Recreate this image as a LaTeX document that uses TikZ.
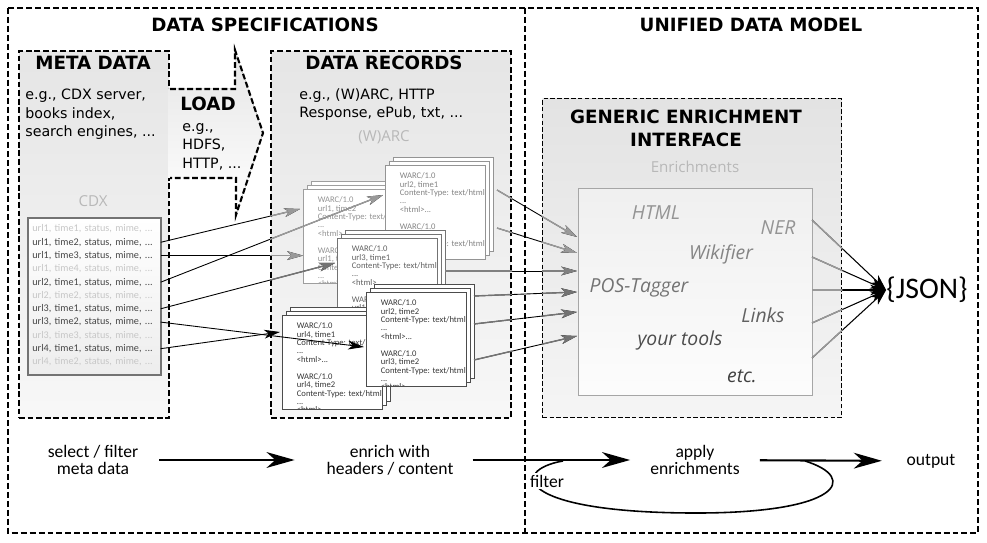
\documentclass[tikz,border=0pt]{standalone}
\usepackage{fontspec}
\setmainfont{DejaVu Sans}
\newfontfamily\calibri{Carlito}
\newfontfamily\opensans{Open Sans}
\usetikzlibrary{arrows.meta,shadows}

\tikzset{
  frameline/.style={line width=1.5pt, dash pattern=on 3.4pt off 1.7pt},
  partline/.style={line width=1.2pt, dash pattern=on 3.3pt off 1.6pt},
  partbox/.style={draw, partline, top color=black!10, bottom color=black!3,
    anchor=north west, inner sep=0pt},
  ifacebox/.style={draw, line width=0.8pt, dash pattern=on 2.6pt off 1.3pt,
    top color=black!11, bottom color=black!4, anchor=north west, inner sep=0pt},
  heading/.style={font=\fontsize{10.4}{13}\selectfont\bfseries, inner sep=0pt},
  example/.style={font=\fontsize{8.1}{10.5}\selectfont, align=left, anchor=north west, inner sep=0pt},
  pale/.style={font=\opensans\fontsize{8.6}{10}\selectfont, text=black!28, inner sep=0pt},
  cdxrow/.style={font=\calibri\fontsize{5.8}{7}\selectfont, text=#1, anchor=west, align=left,
    text width=2.46cm, inner xsep=0.1cm, inner ysep=0pt},
  record/.style n args={3}{draw=#1, fill=white, line width=0.75pt, anchor=north west,
    inner sep=0pt, minimum width=2cm, minimum height=1.88cm,
    double copy shadow={shadow xshift=0.08cm, shadow yshift=0.08cm,
      draw=#1, fill=white, line width=0.75pt},
    path picture={\node[anchor=north west, inner sep=0pt, align=left, text=#2,
      font=\calibri\fontsize{4.9}{4.8}\selectfont]
      at ([xshift=0.12cm, yshift=-0.09cm]path picture bounding box.north west) {#3};}},
  feed/.style={line width=0.5pt, -{Stealth[length=9pt, width=5pt, inset=2.5pt]}},
  faded/.style={line width=0.8pt, draw=black!40},
  tool/.style={font=\opensans\itshape\fontsize{11}{12}\selectfont, text=#1, inner sep=0pt},
  tojson/.style={line width=0.6pt, -{Stealth[length=9pt, width=6pt, inset=2.5pt]}},
  stage/.style={font=\calibri\fontsize{10}{9.6}\selectfont, align=center, inner sep=0pt},
  flow/.style={line width=1.2pt, -{Stealth[length=16pt, width=9pt, inset=5pt]}},
}

\begin{document}
\begin{tikzpicture}[x=0.02cm, y=-0.02cm]
\useasboundingbox (0,0) rectangle (987,543);

% frame and the two halves
\draw[frameline] (8,8) rectangle (978,533);
\draw[frameline] (525,8) -- (525,533);
\draw (265,25) node (dstitle)  [heading] {DATA SPECIFICATIONS};
\draw (751,25) node (udmtitle) [heading] {UNIFIED DATA MODEL};

% meta data, load, data records
\node[partbox, minimum width=3cm, minimum height=7.34cm] (meta) at (18,50) {};
\node[partbox, minimum width=4.8cm, minimum height=7.34cm] (records) at (270,50) {};
\fill[top color=black!10, bottom color=white]
  (168,89) -- (235,89) -- (235,50) -- (263,133) -- (236,215) -- (236,178) -- (168,178) -- cycle;
\draw[partline] (170,89) -- (235,89) -- (235,50) -- (263,133) -- (236,215) -- (236,178) -- (170,178);

\draw (93,63)  node (metatitle) [heading] {META DATA};
\draw (384,63) node (rectitle)  [heading] {DATA RECORDS};
\draw (208,104) node (loadtitle) [heading] {LOAD};
\draw (25,89)  node (metanote) [example] {e.g., CDX server,\\books index,\\search engines, ...};
\draw (182,123) node (loadnote) [example] {e.g.,\\HDFS,\\HTTP, ...};
\draw (299,88) node (recnote)  [example] {e.g., (W)ARC, HTTP\\Response, ePub, txt, ...};
\draw (384,137) node (warclabel) [pale] {(W)ARC};

% CDX table
\draw (93,201) node (cdxlabel) [pale] {CDX};
\node[draw=black!55, line width=1.1pt, top color=white, bottom color=black!7, anchor=north west,
  minimum width=2.66cm, minimum height=3.14cm, inner sep=0pt] (cdx) at (27,217) {};
\draw (27,229)   node (r1)  [cdxrow=black!22] {url1, time1, status, mime, ...};
\draw (27,242.3) node (r2)  [cdxrow=black!72] {url1, time2, status, mime, ...};
\draw (27,255.6) node (r3)  [cdxrow=black!72] {url1, time3, status, mime, ...};
\draw (27,268.9) node (r4)  [cdxrow=black!22] {url1, time4, status, mime, ...};
\draw (27,282.2) node (r5)  [cdxrow=black!72] {url2, time1, status, mime, ...};
\draw (27,295.5) node (r6)  [cdxrow=black!22] {url2, time2, status, mime, ...};
\draw (27,308.8) node (r7)  [cdxrow=black!72] {url3, time1, status, mime, ...};
\draw (27,322.1) node (r8)  [cdxrow=black!72] {url3, time2, status, mime, ...};
\draw (27,335.4) node (r9)  [cdxrow=black!22] {url3, time3, status, mime, ...};
\draw (27,348.7) node (r10) [cdxrow=black!72] {url4, time1, status, mime, ...};
\draw (27,362)   node (r11) [cdxrow=black!22] {url4, time2, status, mime, ...};

% stacks of records
\node[record={black!38}{black!42}{WARC/1.0\\url1, time2\\Content-Type: text/html\\...\\<html>...\\[4.8pt]WARC/1.0\\url1, time1\\Content-Type: text/html\\...\\<html>...}] (warcA) at (303,189) {};
\node[record={black!42}{black!48}{WARC/1.0\\url2, time1\\Content-Type: text/html\\...\\<html>...\\[4.8pt]WARC/1.0\\url1, time3\\Content-Type: text/html\\...\\<html>...}] (warcB) at (385,165) {};
\node[record={black!55}{black!62}{WARC/1.0\\url3, time1\\Content-Type: text/html\\...\\<html>...\\[4.8pt]WARC/1.0\\url1, time4\\Content-Type: text/html\\...\\<html>...}] (warcC) at (337,238) {};
\node[record={black!70}{black!78}{WARC/1.0\\url4, time1\\Content-Type: text/html\\...\\<html>...\\[4.8pt]WARC/1.0\\url4, time2\\Content-Type: text/html\\...\\<html>...}] (warcE) at (282,315) {};
\node[record={black!70}{black!78}{WARC/1.0\\url2, time2\\Content-Type: text/html\\...\\<html>...\\[4.8pt]WARC/1.0\\url3, time2\\Content-Type: text/html\\...\\<html>...}] (warcD) at (366,292) {};

% enrichment interface
\node[ifacebox, minimum width=5.98cm, minimum height=6.38cm] (iface) at (542,98) {};
\draw (686,128) node (ifacetitle) [heading, align=center] {GENERIC ENRICHMENT\\INTERFACE};
\draw (695,167) node (enrlabel) [pale] {Enrichments};
\node[draw=black!35, line width=0.6pt, top color=black!6, bottom color=black!1, anchor=north west,
  minimum width=4.68cm, minimum height=4.14cm, inner sep=0pt] (toolbox) at (578,188) {};
\draw (656,213) node (html)  [tool=black!42] {HTML};
\draw (778,228) node (ner)   [tool=black!42] {NER};
\draw (721,254) node (wiki)  [tool=black!48] {Wikifier};
\draw (639,288) node (pos)   [tool=black!55] {POS-Tagger};
\draw (763,315) node (links) [tool=black!62] {Links};
\draw (680,340) node (yours) [tool=black!70] {your tools};
\draw (742,376) node (etc)   [tool=black!75] {etc.};
\draw (927,290) node (json) [font=\calibri\fontsize{17}{20}\selectfont, inner sep=0pt] {\{JSON\}};

% ends of the connectors
\coordinate (ain1) at (300,209);
\coordinate (bin)  at (383,195);
\coordinate (cin)  at (335,263);
\coordinate (din)  at (364,347);
\coordinate (ein)  at (280,332);
\coordinate (bout1) at (497,190);
\coordinate (bout2) at (497,228);
\coordinate (cout)  at (445,271);
\coordinate (dout1) at (474,296);
\coordinate (dout2) at (474,324);
\coordinate (dout3) at (474,360);
\coordinate (tin1) at (577,237);
\coordinate (tin2) at (577,253);
\coordinate (tin3) at (577,271);
\coordinate (tin4) at (577,292);
\coordinate (tin5) at (577,312);
\coordinate (tin6) at (577,336);
\coordinate (tout1) at (812,220);
\coordinate (tout2) at (812,257);
\coordinate (tout3) at (812,290);
\coordinate (tout4) at (812,323);
\coordinate (tout5) at (812,358);

% cdx rows to records
\draw[feed] (r2.east) -- (ain1);
\draw[feed] (r3.east) -- (r3.east -| warcA.west);
\draw[feed] (r5.east) -- (bin);
\draw[feed] (r7.east) -- (cin);
\draw[feed] (r8.east) -- (din);
\draw[feed] (r10.east) -- (ein);

% records to enrichments
\draw[feed] (bout1) -- (tin1);
\draw[feed] (bout2) -- (tin2);
\draw[feed] (cout) -- (tin3);
\draw[feed] (dout1) -- (tin4);
\draw[feed] (dout2) -- (tin5);
\draw[feed] (dout3) -- (tin6);

% enrichments to json
\draw[tojson] (tout1) -- (json.west);
\draw[tojson] (tout2) -- (json.west);
\draw[tojson] (tout3) -- (json.west);
\draw[tojson] (tout4) -- (json.west);
\draw[tojson] (tout5) -- (json.west);

% faded inside the boxes
\begin{scope}
\clip (records.north west) rectangle (records.south east)
      (iface.north west) rectangle (iface.south east);
\draw[feed, faded] (r2.east) -- (ain1);
\draw[feed, faded] (r3.east) -- (r3.east -| warcA.west);
\draw[feed, faded] (r5.east) -- (bin);
\draw[feed, faded, draw=black!55] (r7.east) -- (cin);
\draw[feed, faded] (bout1) -- (tin1);
\draw[feed, faded] (bout2) -- (tin2);
\draw[feed, faded, draw=black!50] (cout) -- (tin3);
\draw[feed, faded, draw=black!55] (dout1) -- (tin4);
\draw[feed, faded, draw=black!55] (dout2) -- (tin5);
\draw[feed, faded, draw=black!55] (dout3) -- (tin6);
\draw[tojson, faded] (tout1) -- (json.west);
\draw[tojson, faded] (tout2) -- (json.west);
\draw[tojson, faded] (tout3) -- (json.west);
\draw[tojson, faded] (tout4) -- (json.west);
\draw[tojson, faded] (tout5) -- (json.west);
\end{scope}

% workflow
\draw (93,460)  node (sel)      [stage] {select / filter\\meta data};
\draw (390,460) node (hdr)      [stage] {enrich with\\headers / content};
\draw (695,460) node (applyenr) [stage] {apply\\enrichments};
\draw (931,461) node (out)      [stage] {output};
\draw[flow, shorten <=11.9pt, shorten >=18pt] (sel) -- (hdr);
\draw[flow, shorten <=10.8pt, shorten >=11.3pt] (hdr) -- (applyenr);
\draw[flow, shorten <=11.3pt, shorten >=13.9pt] (applyenr) -- (out);
\coordinate (loopin)  at (563,461);
\coordinate (loopout) at (805,461);
\draw[line width=0.9pt] (loopin) .. controls (510,470) and (515,512) .. (690,513)
  .. controls (840,514) and (860,478) .. (loopout);
\draw (547,481) node (filt) [stage, fill=white, inner sep=1pt] {filter};
\end{tikzpicture}
\end{document}
